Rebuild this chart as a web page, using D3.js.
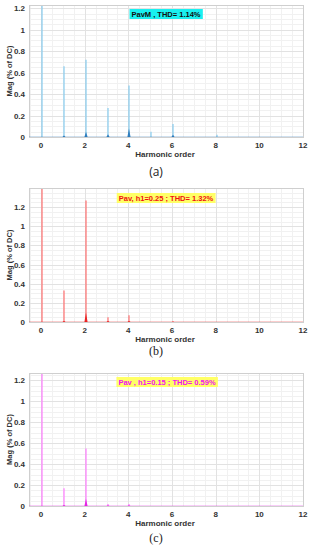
<!DOCTYPE html>
<html>
<head>
<meta charset="utf-8">
<title>Harmonic spectra</title>
<script src="https://cdn.jsdelivr.net/npm/d3@7"></script>
<style>
  body { margin: 0; background: white; }
  svg text { font-family: "Liberation Sans", Arial, sans-serif; }
</style>
</head>
<body>
<script>
// harmonic order ticks shared by the three plots
var xTicks = [0, 2, 4, 6, 8, 10, 12];
var yTicks = [0, 0.2, 0.4, 0.6, 0.8, 1, 1.2];

// (a) PavM
var harmA = [0, 1, 2, 3, 4, 5, 6, 8];
var magA  = [1.25, 0.66, 0.72, 0.27, 0.48, 0.05, 0.12, 0.02];
var skirtHarmA = [1, 2, 3, 4, 6];
var skirtMagA  = [0.015, 0.05, 0.025, 0.08, 0.02];

// (b) Pav, h1=0.25
var harmB = [0, 1, 2, 3, 4, 6];
var magB  = [1.45, 0.33, 1.27, 0.05, 0.07, 0.01];
var skirtHarmB = [1, 2, 3, 4];
var skirtMagB  = [0.01, 0.1, 0.01, 0.01];

// (c) Pav, h1=0.15
var harmC = [0, 1, 2, 3, 4];
var magC  = [1.3, 0.17, 0.55, 0.02, 0.02];
var skirtHarmC = [1, 2, 3, 4];
var skirtMagC  = [0.01, 0.07, 0.005, 0.005];

var width = 311, height = 550;
var svg = d3.select('body').append('svg')
    .attr('width', width)
    .attr('height', height);

function drawPanel(p) {
    var x = d3.scaleLinear().domain([-0.55, 12]).range([29, 303]);
    var y = d3.scaleLinear().domain([0, p.ymax]).range([p.bottom, p.top]);
    // crisp pixel position for grid
    var px = function(d) { return Math.round(x(d)) + 0.5; };
    var py = function(d) { return Math.round(y(d)) + 0.5; };
    // spikes straddle two pixels so they come out soft like the original
    var sx = function(d) { return Math.round(x(d)) + 1; };
    var g = svg.append('g');

    // minor grid
    g.append('g').selectAll('line').data(d3.range(-0.5, 12.01, 0.5)).enter()
        .append('line')
        .attr('x1', px).attr('x2', px)
        .attr('y1', p.top).attr('y2', p.bottom)
        .attr('stroke', '#f1f1f1').attr('stroke-width', 1);
    g.append('g').selectAll('line').data(d3.range(0, p.ymax, 0.05)).enter()
        .append('line')
        .attr('y1', py).attr('y2', py)
        .attr('x1', x.range()[0]).attr('x2', x.range()[1])
        .attr('stroke', '#f1f1f1').attr('stroke-width', 1);
    // major grid
    g.append('g').selectAll('line').data(xTicks).enter()
        .append('line')
        .attr('x1', px).attr('x2', px)
        .attr('y1', p.top).attr('y2', p.bottom)
        .attr('stroke', '#e2e2e2');
    g.append('g').selectAll('line').data(yTicks).enter()
        .append('line')
        .attr('y1', py).attr('y2', py)
        .attr('x1', x.range()[0]).attr('x2', x.range()[1])
        .attr('stroke', '#e2e2e2');

    // box
    g.append('rect')
        .attr('x', x.range()[0] + 0.5).attr('y', p.top + 0.5)
        .attr('width', x.range()[1] - x.range()[0]).attr('height', p.bottom - p.top)
        .attr('fill', 'none').attr('stroke', '#cfcfcf');

    // spectrum spikes
    var clip = 'clip' + p.name;
    svg.append('clipPath').attr('id', clip).append('rect')
        .attr('x', x.range()[0]).attr('y', p.top + 1)
        .attr('width', x.range()[1] - x.range()[0]).attr('height', p.bottom - p.top);
    var spikes = g.append('g').attr('clip-path', 'url(#' + clip + ')');
    spikes.selectAll('.spike').data(p.harm).enter()
        .append('line').attr('class', 'spike')
        .attr('x1', sx).attr('x2', sx)
        .attr('y1', y(0))
        .attr('y2', function(d, i) { return y(p.mag[i]); })
        .attr('stroke', p.light).attr('stroke-width', 1.2);
    spikes.selectAll('.skirt').data(p.skirtHarm).enter()
        .append('path').attr('class', 'skirt')
        .attr('d', function(d, i) {
            var h = p.skirtMag[i];
            return 'M' + (sx(d) - 1.6) + ',' + y(0) + 'L' + sx(d) + ',' + y(h) +
                   'L' + (sx(d) + 1.6) + ',' + y(0) + 'Z';
        })
        .attr('fill', p.dark).attr('opacity', 0.85);
    spikes.append('line')
        .attr('x1', x.range()[0]).attr('x2', x.range()[1])
        .attr('y1', y(0) - 0.5).attr('y2', y(0) - 0.5)
        .attr('stroke', p.dark).attr('stroke-width', 0.6).attr('opacity', 0.35);

    // tick labels
    g.append('g').selectAll('text').data(xTicks).enter()
        .append('text')
        .attr('x', function(d) { return x(d); })
        .attr('y', p.bottom + 11)
        .attr('text-anchor', 'middle')
        .attr('font-size', 8).attr('font-weight', 'bold').attr('fill', '#333')
        .text(function(d) { return d; });
    g.append('g').selectAll('text').data(yTicks.filter(function(d) { return d <= p.ymax; })).enter()
        .append('text')
        .attr('x', 25)
        .attr('y', function(d) { return y(d) + 3; })
        .attr('text-anchor', 'end')
        .attr('font-size', 8).attr('font-weight', 'bold').attr('fill', '#333')
        .text(function(d) { return d; });

    // axis labels
    g.append('text')
        .attr('x', 165).attr('y', p.bottom + 19.5)
        .attr('text-anchor', 'middle')
        .attr('font-size', 8).attr('font-weight', 'bold').attr('fill', '#333')
        .text('Harmonic order');
    g.append('text')
        .attr('transform', 'translate(12,' + ((p.top + p.bottom) / 2) + ') rotate(-90)')
        .attr('text-anchor', 'middle')
        .attr('font-size', 7.5).attr('font-weight', 'bold').attr('fill', '#333')
        .text('Mag (% of DC)');

    // annotation box
    var t = g.append('text')
        .attr('x', p.boxX).attr('y', p.boxY + 7.5)
        .attr('text-anchor', 'middle')
        .attr('font-size', 7.5).attr('font-weight', 'bold').attr('fill', p.textColor)
        .text(p.label);
    var bb = t.node().getBBox();
    g.insert('rect', function() { return t.node(); })
        .attr('x', bb.x - 2).attr('y', p.boxY)
        .attr('width', bb.width + 4).attr('height', 10)
        .attr('fill', p.boxColor);

    // caption
    svg.append('text')
        .attr('x', 156).attr('y', p.captionY)
        .attr('text-anchor', 'middle')
        .attr('font-size', 12)
        .style('font-family', p.captionFont)
        .attr('fill', '#222')
        .text(p.caption);
}

drawPanel({ name: 'a', top: 5, bottom: 137, ymax: 1.23,
    harm: harmA, mag: magA, skirtHarm: skirtHarmA, skirtMag: skirtMagA,
    light: '#86cbef', dark: '#1b6fb5',
    label: 'PavM , THD= 1.14%', boxX: 166, boxY: 9, boxColor: '#19f0f0', textColor: '#111',
    caption: '(a)', captionY: 176, captionFont: '"Open Sans", sans-serif' });

drawPanel({ name: 'b', top: 188, bottom: 322, ymax: 1.4,
    harm: harmB, mag: magB, skirtHarm: skirtHarmB, skirtMag: skirtMagB,
    light: '#ff7070', dark: '#e81010',
    label: 'Pav, h1=0.25 ; THD= 1.32%', boxX: 166, boxY: 193, boxColor: '#ffff66', textColor: '#f01010',
    caption: '(b)', captionY: 355, captionFont: '"Liberation Serif", serif' });

drawPanel({ name: 'c', top: 373, bottom: 506, ymax: 1.27,
    harm: harmC, mag: magC, skirtHarm: skirtHarmC, skirtMag: skirtMagC,
    light: '#ff7cff', dark: '#e010e0',
    label: 'Pav , h1=0.15 ; THD= 0.59%', boxX: 167, boxY: 377, boxColor: '#ffff66', textColor: '#f010f0',
    caption: '(c)', captionY: 542, captionFont: '"Liberation Serif", serif' });
</script>
</body>
</html>
